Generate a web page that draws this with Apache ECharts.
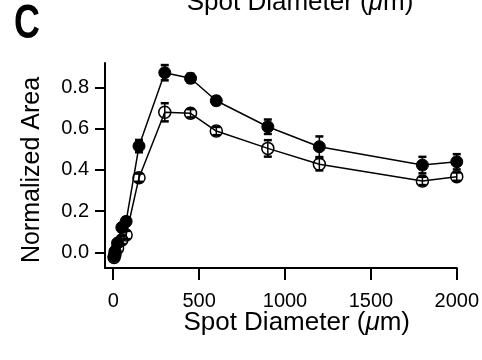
<!DOCTYPE html>
<html>
<head>
<meta charset="utf-8">
<script src="https://cdn.jsdelivr.net/npm/echarts@6/dist/echarts.min.js"></script>
<style>html,body{margin:0;padding:0;background:#fff}#c{width:482px;height:360px}</style>
</head>
<body>
<div id="c"></div>
<script>
const diam = [5, 10, 25, 50, 75, 150, 300, 450, 600, 900, 1200, 1800, 2000];
const filledVals = [-0.02, 0.005, 0.045, 0.12, 0.15, 0.515, 0.871, 0.844, 0.735, 0.609, 0.512, 0.423, 0.439];
const filledErr = [0.01, 0.01, 0.015, 0.02, 0.02, 0.03, 0.037, 0.022, 0.02, 0.035, 0.05, 0.04, 0.037];
const openVals = [-0.025, -0.01, 0.02, 0.06, 0.084, 0.362, 0.679, 0.674, 0.588, 0.504, 0.427, 0.346, 0.367];
const openErr = [0.01, 0.01, 0.015, 0.02, 0.02, 0.02, 0.044, 0.02, 0.02, 0.04, 0.03, 0.02, 0.02];
const xTicks = [0, 500, 1000, 1500, 2000];
const yTicks = [0.0, 0.2, 0.4, 0.6, 0.8];
const xTitle = 'Spot Diameter (μm)';
const yTitle = 'Normalized Area';
const panelLabel = 'C';

const FONT = '"Liberation Sans", Arial, sans-serif';

function errData(vals, errs) {
  return diam.map((d, i) => [d, vals[i] - errs[i], vals[i] + errs[i]]);
}
function errRender(params, api) {
  const x = api.value(0);
  const lo = api.coord([x, api.value(1)]);
  const hi = api.coord([x, api.value(2)]);
  const hw = 4;
  const style = { stroke: '#000', lineWidth: 1.5 };
  return {
    type: 'group',
    children: [
      { type: 'line', shape: { x1: lo[0], y1: lo[1], x2: hi[0], y2: hi[1] }, style },
      { type: 'line', shape: { x1: hi[0] - hw, y1: hi[1], x2: hi[0] + hw, y2: hi[1] }, style: { stroke: '#000', lineWidth: 2.5 } },
      { type: 'line', shape: { x1: lo[0] - hw, y1: lo[1], x2: lo[0] + hw, y2: lo[1] }, style: { stroke: '#000', lineWidth: 2.5 } }
    ]
  };
}
const richTitle = xTitle.replace('μ', '{i|μ}');
const titleRich = { i: { font: 'italic 26px ' + FONT, fill: '#000' } };

const chart = echarts.init(document.getElementById('c'), null, { renderer: 'canvas' });
chart.setOption({
  animation: false,
  backgroundColor: '#fff',
  grid: { left: 105, right: 17.7, top: 63, bottom: 92, containLabel: false },
  xAxis: {
    type: 'value', min: -48, max: 2000,
    splitLine: { show: false },
    axisLine: { show: true, onZero: false, lineStyle: { color: '#000', width: 2 } },
    axisTick: { show: true, length: 12, lineStyle: { color: '#000', width: 2 }, customValues: xTicks },
    axisLabel: { color: '#000', fontFamily: FONT, fontSize: 20, margin: 23, customValues: xTicks, formatter: v => String(v) }
  },
  yAxis: {
    type: 'value', min: -0.076, max: 0.918,
    splitLine: { show: false },
    axisLine: { show: true, onZero: false, lineStyle: { color: '#000', width: 2 } },
    axisTick: { show: true, length: 10, lineStyle: { color: '#000', width: 2 }, customValues: yTicks },
    axisLabel: { color: '#000', fontFamily: FONT, fontSize: 20, margin: 16, customValues: yTicks, formatter: v => v.toFixed(1) }
  },
  series: [
    {
      type: 'line', data: diam.map((d, i) => [d, openVals[i]]),
      symbol: 'circle', symbolSize: 12, z: 3,
      lineStyle: { color: '#000', width: 1.5 },
      itemStyle: { color: 'rgba(255,255,255,0)', borderColor: '#000', borderWidth: 1.5 }
    },
    {
      type: 'line', data: diam.map((d, i) => [d, filledVals[i]]),
      symbol: 'circle', symbolSize: 12, z: 3,
      lineStyle: { color: '#000', width: 1.5 },
      itemStyle: { color: '#000', borderColor: '#000', borderWidth: 1 }
    },
    { type: 'custom', renderItem: errRender, data: errData(openVals, openErr), z: 4, encode: { x: 0, y: [1, 2] } },
    { type: 'custom', renderItem: errRender, data: errData(filledVals, filledErr), z: 4, encode: { x: 0, y: [1, 2] } }
  ],
  graphic: [
    { type: 'text', x: 300, y: 3, style: { text: richTitle, rich: titleRich, font: '26px ' + FONT, fill: '#000', align: 'center', verticalAlign: 'middle' } },
    { type: 'text', x: 296.7, y: 323, style: { text: richTitle, rich: titleRich, font: '26px ' + FONT, fill: '#000', align: 'center', verticalAlign: 'middle' } },
    { type: 'text', x: 32, y: 170, rotation: Math.PI / 2, style: { text: yTitle, font: '25px ' + FONT, fill: '#000', align: 'center', verticalAlign: 'middle' } },
    { type: 'text', x: 27, y: 25, scaleX: 0.78, scaleY: 1.05, style: { text: panelLabel, font: 'bold 46px ' + FONT, fill: '#000', align: 'center', verticalAlign: 'middle' } }
  ]
});
</script>
</body>
</html>
